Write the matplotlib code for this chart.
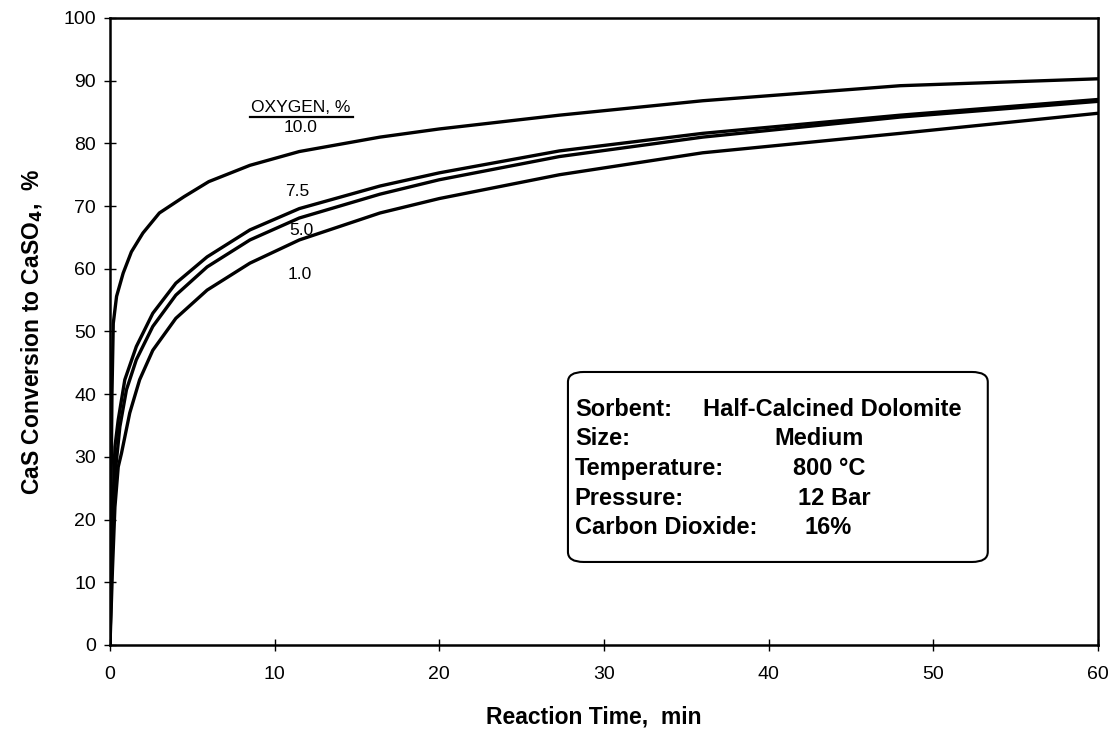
import matplotlib

matplotlib.use("Agg")
import matplotlib.pyplot as plt
from matplotlib.patches import FancyBboxPatch

plt.rcParams["font.family"] = ["Liberation Sans", "DejaVu Sans"]

# (time in min, conversion in %)
t_10 = [0, 0.05, 0.12, 0.2, 0.4, 0.8, 1.3, 2.0, 3.0, 4.5, 6.0, 8.5, 11.5, 16.4, 20, 27.3, 36, 48, 60]
y_10 = [0, 20, 40, 51.3, 55.6, 59.3, 62.7, 65.7, 68.9, 71.5, 73.9, 76.5, 78.7, 81.0, 82.3, 84.5, 86.8, 89.2, 90.3]

t_75 = [0, 0.1, 0.3, 0.5, 0.9, 1.6, 2.6, 4.0, 5.9, 8.5, 11.5, 16.4, 20, 27.3, 36, 48, 60]
y_75 = [0, 15, 31.6, 35.9, 42.3, 47.6, 52.9, 57.7, 61.9, 66.2, 69.6, 73.2, 75.3, 78.8, 81.6, 84.5, 87.0]

t_50 = [0, 0.1, 0.3, 0.6, 1.0, 1.6, 2.6, 4.0, 5.9, 8.5, 11.5, 16.4, 20, 27.3, 36, 48, 60]
y_50 = [0, 14, 27, 34.8, 40.7, 45.5, 50.8, 55.8, 60.3, 64.6, 68.1, 71.9, 74.2, 77.9, 81.0, 84.2, 86.7]

t_10b = [0, 0.15, 0.3, 0.5, 0.7, 1.2, 1.8, 2.6, 4.0, 5.9, 8.5, 11.5, 16.4, 20, 27.3, 36, 48, 60]
y_10b = [0, 12, 22, 28.4, 30.6, 37.0, 42.3, 47.0, 52.1, 56.6, 60.9, 64.6, 68.9, 71.2, 75.0, 78.5, 81.6, 84.8]

curve_labels = ["10.0", "7.5", "5.0", "1.0"]
label_x = [11.6, 11.4, 11.6, 11.5]
label_y = [82.5, 72.4, 66.1, 59.1]

box_keys = ["Sorbent:", "Size:", "Temperature:", "Pressure:", "Carbon Dioxide:"]
box_vals = ["Half-Calcined Dolomite", "Medium", "800 \u00b0C", "12 Bar", "16%"]
box_val_x = [0.600, 0.673, 0.691, 0.696, 0.703]
box_line_y = [0.376, 0.329, 0.282, 0.234, 0.187]

fig = plt.figure(figsize=(11.2, 7.4), dpi=100)
ax = fig.add_axes([0.0982, 0.1284, 0.882, 0.8473])

for t, y in [(t_10, y_10), (t_75, y_75), (t_50, y_50), (t_10b, y_10b)]:
    ax.plot(t, y, color="black", linewidth=2.4, solid_capstyle="round")

ax.set_xlim(0, 60)
ax.set_ylim(0, 100)
ax.set_xticks(range(0, 61, 10))
ax.set_yticks(range(0, 101, 10))
ax.tick_params(direction="inout", length=8, width=1.0, labelsize=14)
ax.tick_params(axis="x", pad=11)
ax.tick_params(axis="y", pad=6)
for s in ax.spines.values():
    s.set_linewidth(1.8)

ax.set_xlabel("Reaction Time,  min", fontsize=16.5, fontweight="bold", va="center")
ax.set_ylabel("CaS Conversion to CaSO$_\\mathbf{4}$,  %", fontsize=16.5,
              fontweight="bold", va="center")
ax.xaxis.set_label_coords(0.49, -0.115)
ax.yaxis.set_label_coords(-0.079, 0.5)

# curve labels
ax.text(11.6, 85.7, "OXYGEN, %", fontsize=12.5, ha="center", va="center")
ax.plot([8.5, 14.75], [84.2, 84.2], color="black", linewidth=1.6)
for lab, x, y in zip(curve_labels, label_x, label_y):
    ax.text(x, y, lab, fontsize=12.5, ha="center", va="center")

# info box
box = FancyBboxPatch((0.4636, 0.1324), 0.425, 0.303, transform=ax.transAxes,
                     boxstyle="round,pad=0,rounding_size=0.016",
                     facecolor="white", edgecolor="black", linewidth=1.5)
ax.add_patch(box)
for k, v, vx, y in zip(box_keys, box_vals, box_val_x, box_line_y):
    ax.text(0.4706, y, k, transform=ax.transAxes, fontsize=17,
            fontweight="bold", va="center", ha="left")
    ax.text(vx, y, v, transform=ax.transAxes, fontsize=17,
            fontweight="bold", va="center", ha="left")

fig.savefig("out.png", dpi=100)
